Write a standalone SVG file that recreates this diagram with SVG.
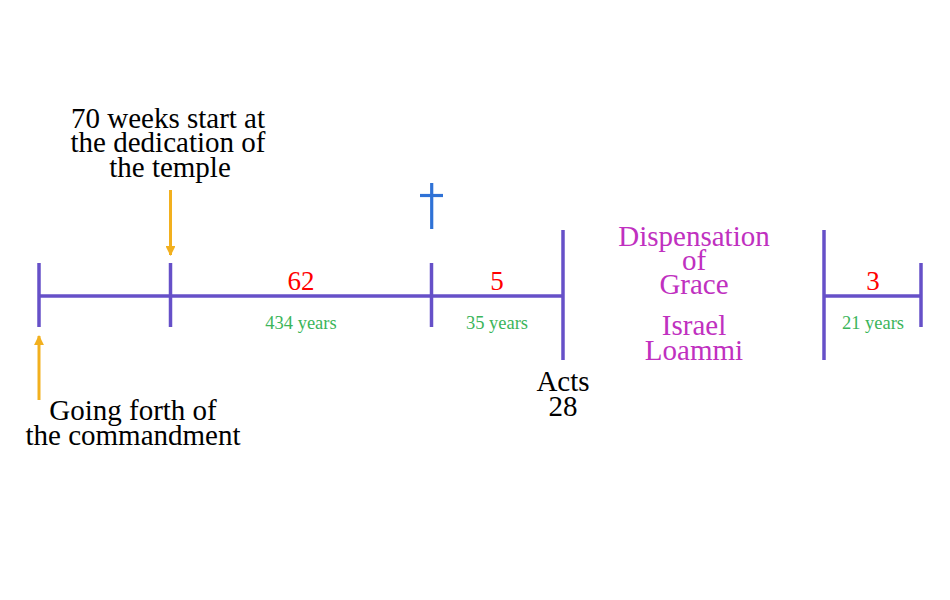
<svg xmlns="http://www.w3.org/2000/svg" width="950" height="600" viewBox="0 0 950 600">
<style>
.ln{stroke:#6650C8;stroke-width:3.5;fill:none}
.ar{stroke:#F2B01E;stroke-width:3;fill:none}
.bk{font-family:"Liberation Serif",serif;font-size:29px;fill:#000;text-anchor:middle}
.rd{font-family:"Liberation Serif",serif;font-size:27px;fill:#FF0000;text-anchor:middle}
.gn{font-family:"Liberation Serif",serif;font-size:18.5px;fill:#3BB55A;text-anchor:middle}
.mg{font-family:"Liberation Serif",serif;font-size:29px;fill:#C030C0;text-anchor:middle}
</style>
<defs>
<marker id="ah" viewBox="0 0 10 10" refX="9" refY="5" markerWidth="3.3" markerHeight="3.3" orient="auto" markerUnits="strokeWidth">
<path d="M0,0 L10,5 L0,10 z" fill="#F2B01E"/>
</marker>
</defs>
<rect width="950" height="600" fill="#fff"/>
<g id="connectors">
<line class="ln" x1="39" y1="296" x2="563" y2="296"/>
<line class="ln" x1="824" y1="296" x2="921" y2="296"/>
<line class="ar" x1="170.5" y1="190" x2="170.5" y2="255" marker-end="url(#ah)"/>
<line class="ar" x1="39" y1="400" x2="39" y2="336" marker-end="url(#ah)"/>
</g>
<g id="tick-start"><line class="ln" x1="39" y1="263" x2="39" y2="327"/></g>
<g id="tick-temple"><line class="ln" x1="170.5" y1="263" x2="170.5" y2="327"/></g>
<g id="tick-cross"><line class="ln" x1="431.5" y1="263" x2="431.5" y2="327"/></g>
<g id="tick-acts"><line class="ln" x1="563" y1="230" x2="563" y2="360"/></g>
<g id="tick-resume"><line class="ln" x1="824" y1="230" x2="824" y2="360"/></g>
<g id="tick-end"><line class="ln" x1="921" y1="263" x2="921" y2="327"/></g>
<g id="cross" stroke="#2F72D6" stroke-width="3.2">
<line x1="431.7" y1="183" x2="431.7" y2="229"/>
<line x1="420" y1="195.5" x2="443" y2="195.5"/>
</g>
<g id="label-temple">
<text class="bk" x="168" y="128">70 weeks start at</text>
<text class="bk" x="168" y="152">the dedication of</text>
<text class="bk" x="170" y="177">the temple</text>
</g>
<g id="label-commandment">
<text class="bk" x="133" y="420">Going forth of</text>
<text class="bk" x="133" y="445">the commandment</text>
</g>
<g id="seg-62">
<text class="rd" x="301" y="290">62</text>
<text class="gn" x="301" y="329">434 years</text>
</g>
<g id="seg-5">
<text class="rd" x="497" y="290">5</text>
<text class="gn" x="497" y="329">35 years</text>
</g>
<g id="seg-3">
<text class="rd" x="873" y="290">3</text>
<text class="gn" x="873" y="329">21 years</text>
</g>
<g id="label-acts">
<text class="bk" x="563" y="391">Acts</text>
<text class="bk" x="563" y="416">28</text>
</g>
<g id="label-grace">
<text class="mg" x="694" y="246">Dispensation</text>
<text class="mg" x="694" y="270">of</text>
<text class="mg" x="694" y="294">Grace</text>
<text class="mg" x="694" y="335">Israel</text>
<text class="mg" x="694" y="360">Loammi</text>
</g>
</svg>
